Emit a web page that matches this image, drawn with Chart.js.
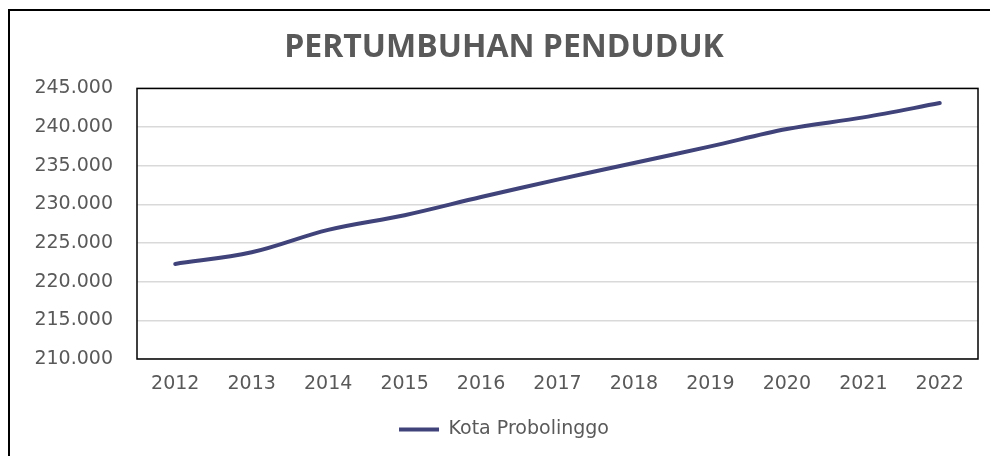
<!DOCTYPE html>
<html>
<head>
<meta charset="utf-8">
<script src="https://cdn.jsdelivr.net/npm/chart.js@4"></script>
<style>
  html, body { margin: 0; padding: 0; background: #fff; }
  #wrap { width: 990px; height: 456px; }
</style>
</head>
<body>
<div id="wrap"><canvas id="popChart" width="990" height="456"></canvas></div>
<script>
// Population growth, Kota Probolinggo
const years = ['2012', '2013', '2014', '2015', '2016', '2017', '2018', '2019', '2020', '2021', '2022'];
const population = [222300, 223800, 226700, 228600, 230950, 233200, 235350, 237500, 239750, 241250, 243100];
const seriesName = 'Kota Probolinggo';

const textGrey = '#595959';
const lineColor = '#3f437a';

// outer frame + plot-area frame
const framePlugin = {
    id: 'frames',
    beforeDraw(chart) {
        const ctx = chart.ctx;
        ctx.save();
        ctx.fillStyle = '#fff';
        ctx.fillRect(0, 0, chart.width, chart.height);
        ctx.strokeStyle = '#000';
        ctx.lineWidth = 2;
        ctx.strokeRect(9, 10, 1000, 500);
        ctx.restore();
    },
    afterDatasetsDraw(chart) {
        const a = chart.chartArea;
        const ctx = chart.ctx;
        ctx.save();
        ctx.strokeStyle = '#000';
        ctx.lineWidth = 1.5;
        ctx.strokeRect(a.left, a.top, a.right - a.left, a.bottom - a.top);
        ctx.restore();
    }
};

const ctx = document.getElementById('popChart').getContext('2d');
new Chart(ctx, {
    type: 'line',
    data: {
        labels: years,
        datasets: [{
            label: seriesName,
            data: population,
            borderColor: lineColor,
            backgroundColor: lineColor,
            borderWidth: 4,
            borderCapStyle: 'round',
            pointRadius: 0,
            tension: 0.35
        }]
    },
    options: {
        responsive: false,
        animation: false,
        layout: { padding: { left: 30, right: 12, top: 0, bottom: 7 } },
        scales: {
            x: {
                offset: true,
                grid: { display: false, drawTicks: false },
                border: { display: false },
                ticks: { color: textGrey, padding: 14, font: { family: 'DejaVu Sans', size: 19 }, maxRotation: 0 },
                afterFit(axis) { axis.height = 42; }
            },
            y: {
                min: 210000,
                max: 245000,
                grid: { color: '#d9d9d9', lineWidth: 1.5, drawTicks: false },
                border: { display: false },
                ticks: {
                    stepSize: 5000,
                    color: textGrey,
                    padding: 24,
                    font: { family: 'DejaVu Sans', size: 19 },
                    callback: v => v.toLocaleString('de-DE', { minimumFractionDigits: 0 }).replace(',', '.')
                },
                afterFit(axis) { axis.width = 107; }
            }
        },
        plugins: {
            title: {
                display: true,
                text: 'PERTUMBUHAN PENDUDUK',
                color: textGrey,
                font: { family: 'Open Sans', size: 32, weight: 'bold' },
                padding: { top: 29, bottom: 21 }
            },
            legend: {
                position: 'bottom',
                labels: {
                    color: textGrey,
                    usePointStyle: true,
                    pointStyle: 'line',
                    pointStyleWidth: 40,
                    boxWidth: 40,
                    padding: 19,
                    font: { family: 'DejaVu Sans', size: 19 }
                }
            },
            tooltip: { enabled: false }
        }
    },
    plugins: [framePlugin]
});
</script>
</body>
</html>
